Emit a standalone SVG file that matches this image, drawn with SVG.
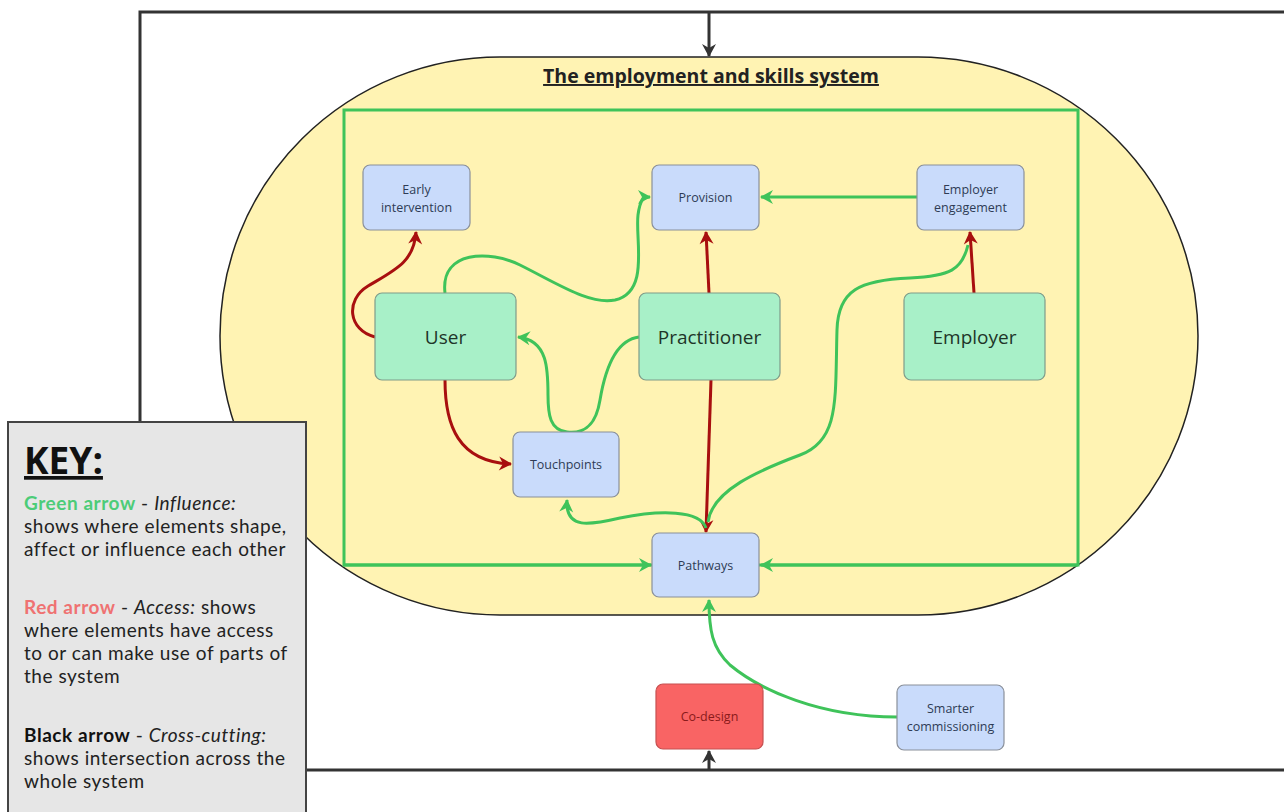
<svg xmlns="http://www.w3.org/2000/svg" width="1284" height="812" viewBox="0 0 1284 812">
<style>
.nb{fill:#c9dbfb;stroke:#8a909a;stroke-width:1.2}
.ng{fill:#a8f0c8;stroke:#7f9c8a;stroke-width:1.2}
.nr{fill:#f96464;stroke:#c65050;stroke-width:1.2}
.ts{font-family:"Open Sans","Noto Sans",sans-serif;font-size:12.5px;fill:#2e3b55;text-anchor:middle}
.tl{font-family:"Open Sans","Noto Sans",sans-serif;font-size:19px;fill:#1e3528;text-anchor:middle}
.g{fill:none;stroke:#3fc35a;stroke-width:3}
.r{fill:none;stroke:#a80f0f;stroke-width:3}
.k{fill:none;stroke:#333;stroke-width:3}
.key{font-family:Lato,"Open Sans",sans-serif;font-size:19px;letter-spacing:0.55px;fill:#222}
</style>
<defs>
<marker id="ag" markerUnits="userSpaceOnUse" markerWidth="16" markerHeight="16" refX="13" refY="8" orient="auto"><path d="M1,1 L14,8 L1,15 L5,8 Z" fill="#3fc35a"/></marker>
<marker id="ar" markerUnits="userSpaceOnUse" markerWidth="16" markerHeight="16" refX="13" refY="8" orient="auto"><path d="M1,1 L14,8 L1,15 L5,8 Z" fill="#a80f0f"/></marker>
<marker id="ak" markerUnits="userSpaceOnUse" markerWidth="16" markerHeight="16" refX="13" refY="8" orient="auto"><path d="M1,1 L14,8 L1,15 L5,8 Z" fill="#333"/></marker>
</defs>
<rect width="1284" height="812" fill="#fff"/>
<g id="frame">
<path class="k" d="M140,422 L140,12 L1284,12"/>
<path class="k" d="M306,770 L1284,770"/>
</g>
<g id="system">
<rect x="220" y="57" width="978" height="558" rx="280" ry="279" fill="#fff3b3" stroke="#222" stroke-width="1.5"/>
<rect x="344" y="110" width="734" height="455" fill="none" stroke="#3fc35a" stroke-width="3"/>
<text x="711" y="83" font-family="'Open Sans','Noto Sans',sans-serif" font-size="19.5" font-weight="bold" fill="#222" text-anchor="middle" text-decoration="underline">The employment and skills system </text>
</g>
<g id="connectors">
<path class="k" d="M709,12 L709,56" marker-end="url(#ak)"/>
<path class="k" d="M709,770 L709,751" marker-end="url(#ak)"/>
<path class="r" d="M375,337 C348,330 345,300 368,286 C395,270 414,262 416,232" marker-end="url(#ar)"/>
<path class="r" d="M709,293 L706,232" marker-end="url(#ar)"/>
<path class="r" d="M974,293 L970,232" marker-end="url(#ar)"/>
<path class="r" d="M445,380 C445,425 458,462 511,464" marker-end="url(#ar)"/>
<path class="r" d="M711,380 L706,532" marker-end="url(#ar)"/>
<path class="g" d="M445,293 C440,250 490,250 520,265 C560,285 590,305 615,300 C650,292 635,240 638,215 C640,200 643,197 650,197" marker-end="url(#ag)"/>
<path class="g" d="M639,337 C615,340 605,370 600,400 C596,425 585,434 567,432 C550,430 548,415 548,395 C548,370 548,340 518,337" marker-end="url(#ag)"/>
<path class="g" d="M917,197 L761,197" marker-end="url(#ag)"/>
<path class="g" d="M708,522 C712,490 760,470 800,455 C840,440 835,400 837,330 C838,290 860,280 910,278 C950,276 962,270 968,245"/>
<path class="g" d="M706,528 C700,510 660,510 620,518 C590,525 565,530 567,500" marker-end="url(#ag)"/>
<path class="g" d="M344,565 L651,565" marker-end="url(#ag)"/>
<path class="g" d="M1078,565 L761,565" marker-end="url(#ag)"/>
<path class="g" d="M897,717 C820,717 760,690 730,665 C712,648 709,630 709,600" marker-end="url(#ag)"/>
</g>
<g id="early-intervention"><rect class="nb" x="363" y="165" width="107" height="65" rx="7"/><text class="ts" x="416.5" y="194">Early</text><text class="ts" x="416.5" y="212">intervention</text></g>
<g id="provision"><rect class="nb" x="652" y="165" width="107" height="65" rx="7"/><text class="ts" x="705.5" y="202">Provision</text></g>
<g id="employer-engagement"><rect class="nb" x="917" y="165" width="107" height="65" rx="7"/><text class="ts" x="970.5" y="194">Employer</text><text class="ts" x="970.5" y="212">engagement</text></g>
<g id="user"><rect class="ng" x="375" y="293" width="141" height="87" rx="7"/><text class="tl" x="445.5" y="344">User</text></g>
<g id="practitioner"><rect class="ng" x="639" y="293" width="141" height="87" rx="7"/><text class="tl" x="709.5" y="344">Practitioner</text></g>
<g id="employer"><rect class="ng" x="904" y="293" width="141" height="87" rx="7"/><text class="tl" x="974.5" y="344">Employer</text></g>
<g id="touchpoints"><rect class="nb" x="513" y="432" width="106" height="65" rx="7"/><text class="ts" x="566" y="469">Touchpoints</text></g>
<g id="pathways"><rect class="nb" x="652" y="533" width="107" height="64" rx="7"/><text class="ts" x="705.5" y="570">Pathways</text></g>
<g id="co-design"><rect class="nr" x="656" y="684" width="107" height="65" rx="7"/><text class="ts" x="709.5" y="721" style="fill:#8a1a1a">Co-design</text></g>
<g id="smarter-commissioning"><rect class="nb" x="897" y="685" width="107" height="65" rx="7"/><text class="ts" x="950.5" y="713">Smarter</text><text class="ts" x="950.5" y="731">commissioning</text></g>
<g id="key">
<rect x="8" y="422" width="298" height="400" fill="#e6e6e6" stroke="#444" stroke-width="2"/>
<text x="24" y="474" font-family="'Open Sans','Noto Sans',sans-serif" font-size="37" font-weight="bold" fill="#111" text-decoration="underline">KEY:</text>
<text class="key" x="24" y="510"><tspan font-weight="bold" fill="#4ccc78">Green arrow</tspan> - <tspan font-style="italic">Influence:</tspan></text>
<text class="key" x="24" y="533">shows where elements shape,</text>
<text class="key" x="24" y="556">affect or influence each other</text>
<text class="key" x="24" y="614"><tspan font-weight="bold" fill="#ef7272">Red arrow</tspan> - <tspan font-style="italic">Access:</tspan> shows</text>
<text class="key" x="24" y="637">where elements have access</text>
<text class="key" x="24" y="660">to or can make use of parts of</text>
<text class="key" x="24" y="683">the system</text>
<text class="key" x="24" y="742"><tspan font-weight="bold" fill="#111">Black arrow</tspan> - <tspan font-style="italic">Cross-cutting:</tspan></text>
<text class="key" x="24" y="765">shows intersection across the</text>
<text class="key" x="24" y="788">whole system</text>
</g>
</svg>
